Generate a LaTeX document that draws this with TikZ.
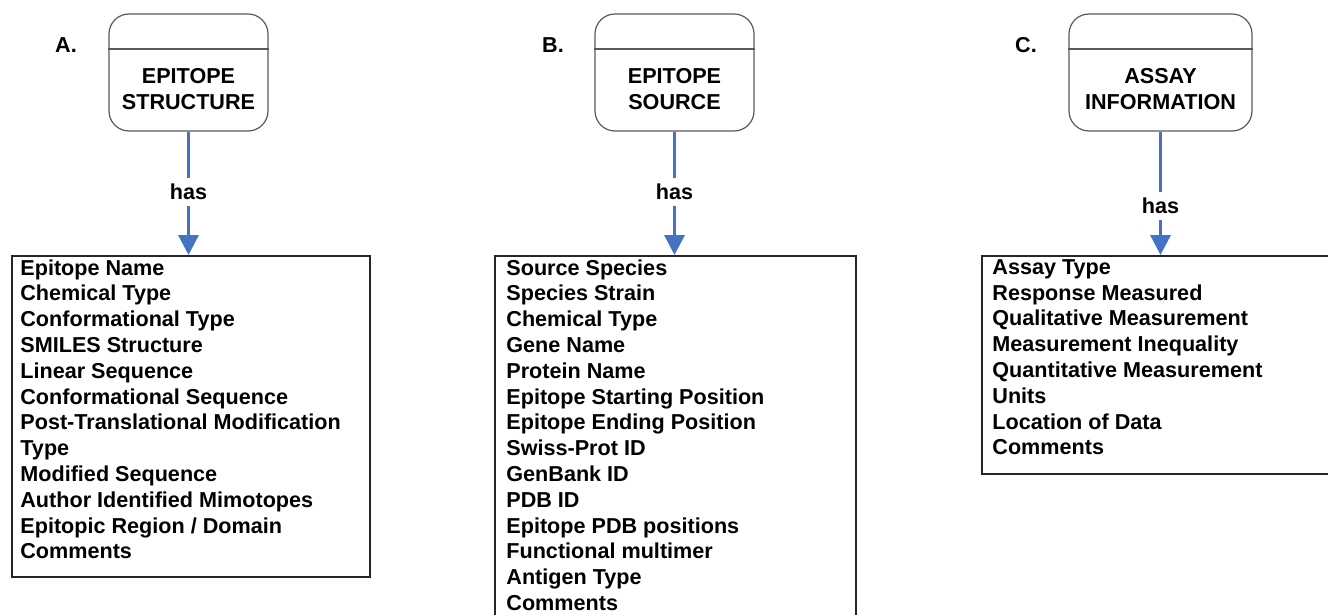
\documentclass[tikz,border=0pt]{standalone}
\usepackage{fontspec}
\setmainfont{Liberation Sans}
\usetikzlibrary{arrows.meta,positioning,calc}
\definecolor{hasblue}{RGB}{68,114,196}
\tikzset{
  entbox/.style={draw=black!65, line width=0.6pt, rounded corners=10pt,
    minimum width=79.5pt, minimum height=58.5pt, inner sep=0pt},
  titletext/.style={font=\bfseries\fontsize{10.8}{13}\selectfont, align=center, inner sep=0pt},
  panlabel/.style={font=\bfseries\fontsize{10.8}{13}\selectfont, inner sep=0pt},
  listbox/.style={draw=black!85, line width=0.9pt, anchor=north west, inner sep=0pt},
  listtext/.style={font=\bfseries\fontsize{10.8}{12.9}\selectfont, align=left,
    anchor=north west, inner sep=0pt},
  hasline/.style={hasblue, line width=1.7pt, -{Triangle[width=10pt,length=10pt]}},
  haslabel/.style={fill=white, text=black, font=\bfseries\fontsize{10.8}{13}\selectfont,
    inner xsep=2pt, inner ysep=3pt}
}

\begin{document}
\begin{tikzpicture}[x=0.5pt,y=-0.5pt]
  \clip (0,0) rectangle (1328,615);
  % panel letters
  \node[panlabel] (pa) at (66,45) {A.};
  \node[panlabel] (pb) at (553,45) {B.};
  \node[panlabel] (pc) at (1026,45) {C.};
  % entity boxes
  \node[entbox] (ea) at (188.5,72.5) {};
  \node[entbox] (eb) at (674.5,72.5) {};
  \node[entbox, minimum width=91.5pt] (ec) at (1160.5,72.5) {};
  \foreach \e in {ea,eb,ec}
    \draw[draw=black!65, line width=0.6pt] (\e.west |- 0,49) -- (\e.east |- 0,49);
  \node[titletext] (ta) at (188.5,89.5) {EPITOPE\\STRUCTURE};
  \node[titletext] (tb) at (674.5,89.5) {EPITOPE\\SOURCE};
  \node[titletext] (tc) at (1160.5,89.5) {ASSAY\\INFORMATION};
  % attribute lists
  \node[listbox, minimum width=179pt, minimum height=160.5pt] (la) at (11,255) {};
  \node[listbox, minimum width=180.5pt, minimum height=187.5pt] (lb) at (494,255) {};
  \node[listbox, minimum width=179.5pt, minimum height=109pt] (lc) at (981,255) {};
  \node[listtext] (xa) at ($(la.north west)+(9,4)$) {Epitope Name\\Chemical Type\\Conformational Type\\
    SMILES Structure\\Linear Sequence\\Conformational Sequence\\Post-Translational Modification\\
    Type\\Modified Sequence\\Author Identified Mimotopes\\Epitopic Region / Domain\\Comments};
  \node[listtext] (xb) at ($(lb.north west)+(12,4)$) {Source Species\\Species Strain\\Chemical Type\\
    Gene Name\\Protein Name\\Epitope Starting Position\\Epitope Ending Position\\Swiss-Prot ID\\
    GenBank ID\\PDB ID\\Epitope PDB positions\\Functional multimer\\Antigen Type\\Comments};
  \node[listtext] (xc) at ($(lc.north west)+(11,4)$) {Assay Type\\Response Measured\\
    Qualitative Measurement\\Measurement Inequality\\Quantitative Measurement\\Units\\
    Location of Data\\Comments};
  % has arrows
  \draw[hasline] (ea.south) -- (ea.south |- la.north) node[haslabel, pos=0.49] {has};
  \draw[hasline] (eb.south) -- (eb.south |- lb.north) node[haslabel, pos=0.49] {has};
  \draw[hasline] (ec.south) -- (ec.south |- lc.north) node[haslabel, pos=0.6] {has};
\end{tikzpicture}
\end{document}
